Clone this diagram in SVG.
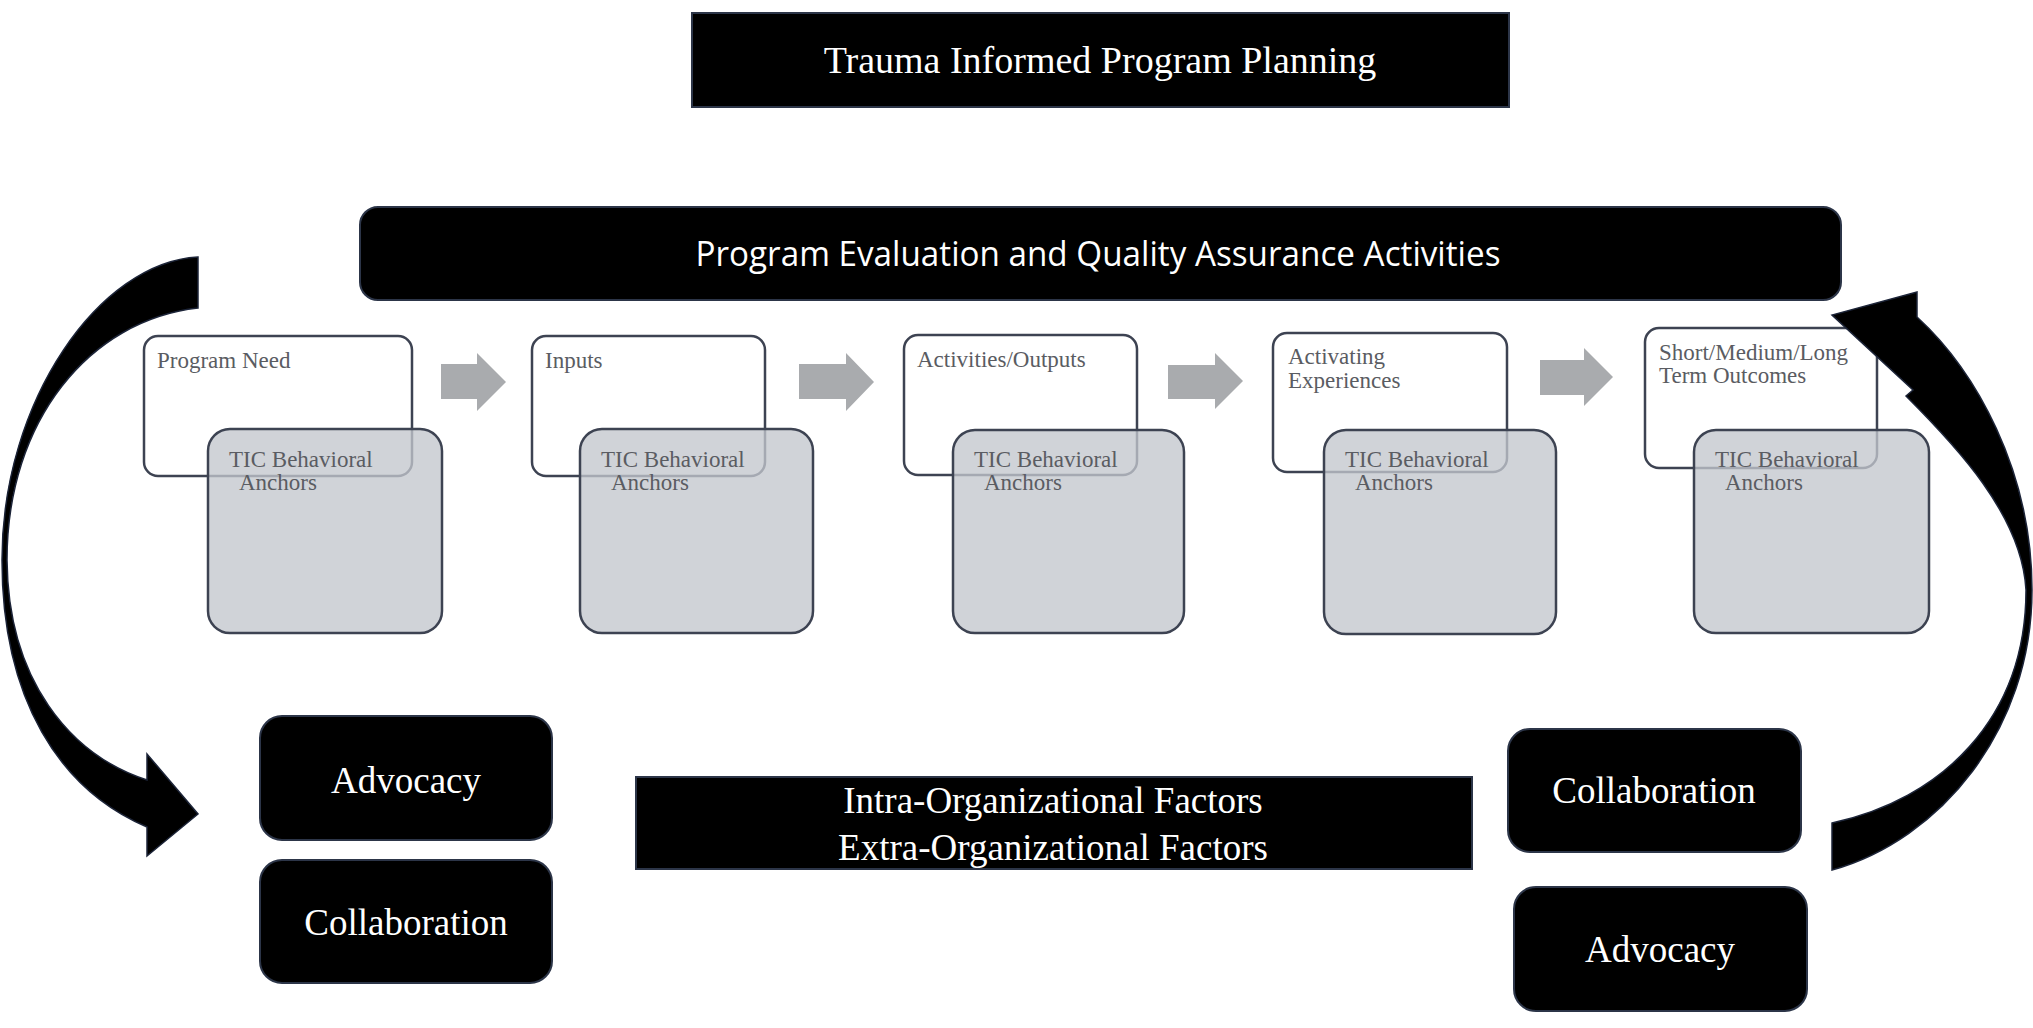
<svg xmlns="http://www.w3.org/2000/svg" width="2033" height="1028" viewBox="0 0 2033 1028">
<style>
.blk{fill:#000;stroke:#2c3548;stroke-width:2}
.wbox{fill:#fff;stroke:#3d4352;stroke-width:2.5}
.gbox{fill:#c3c7cd;fill-opacity:0.78;stroke:#3d4352;stroke-width:2.5}
.wt{font-family:"Liberation Serif","Times New Roman",serif;fill:#fff;text-anchor:middle}
.bt{font-family:"Liberation Serif","Times New Roman",serif;font-size:23px;fill:#5a5c62}
.garrow{fill:#a9abae}
.carrow{fill:#000;stroke:#1c2438;stroke-width:1.5}
</style>
<rect width="2033" height="1028" fill="#fff"/>

<g id="title">
<rect class="blk" x="692" y="13" width="817" height="94"/>
<text class="wt" x="1100" y="73" font-size="38">Trauma Informed Program Planning</text>
</g>

<g id="peqa">
<rect class="blk" x="360" y="207" width="1481" height="93" rx="18"/>
<text x="1098" y="266" font-family="'Open Sans','Noto Sans',sans-serif" font-size="35" fill="#fff" text-anchor="middle" textLength="805" lengthAdjust="spacingAndGlyphs">Program Evaluation and Quality Assurance Activities</text>
</g>

<g id="step1">
<rect class="wbox" x="144" y="336" width="268" height="140" rx="14"/>
<text class="bt" x="157" y="368">Program Need</text>
<rect class="gbox" x="208" y="429" width="234" height="204" rx="22"/>
<text class="bt" x="229" y="467">TIC Behavioral</text>
<text class="bt" x="239" y="490">Anchors</text>
</g>

<g id="step2">
<rect class="wbox" x="532" y="336" width="233" height="140" rx="14"/>
<text class="bt" x="545" y="368">Inputs</text>
<rect class="gbox" x="580" y="429" width="233" height="204" rx="22"/>
<text class="bt" x="601" y="467">TIC Behavioral</text>
<text class="bt" x="611" y="490">Anchors</text>
</g>

<g id="step3">
<rect class="wbox" x="904" y="335" width="233" height="140" rx="14"/>
<text class="bt" x="917" y="367">Activities/Outputs</text>
<rect class="gbox" x="953" y="430" width="231" height="203" rx="22"/>
<text class="bt" x="974" y="467">TIC Behavioral</text>
<text class="bt" x="984" y="490">Anchors</text>
</g>

<g id="step4">
<rect class="wbox" x="1273" y="333" width="234" height="139" rx="14"/>
<text class="bt" x="1288" y="364">Activating</text>
<text class="bt" x="1288" y="388">Experiences</text>
<rect class="gbox" x="1324" y="430" width="232" height="204" rx="22"/>
<text class="bt" x="1345" y="467">TIC Behavioral</text>
<text class="bt" x="1355" y="490">Anchors</text>
</g>

<g id="step5">
<rect class="wbox" x="1645" y="328" width="232" height="140" rx="14"/>
<text class="bt" x="1659" y="360">Short/Medium/Long</text>
<text class="bt" x="1659" y="383">Term Outcomes</text>
<rect class="gbox" x="1694" y="430" width="235" height="203" rx="22"/>
<text class="bt" x="1715" y="467">TIC Behavioral</text>
<text class="bt" x="1725" y="490">Anchors</text>
</g>

<g id="factors">
<rect class="blk" x="636" y="777" width="836" height="92"/>
<text class="wt" x="1053" y="813" font-size="37">Intra-Organizational Factors</text>
<text class="wt" x="1053" y="860" font-size="37">Extra-Organizational Factors</text>
</g>

<g id="advocacy-left">
<rect class="blk" x="260" y="716" width="292" height="124" rx="22"/>
<text class="wt" x="406" y="793" font-size="37">Advocacy</text>
</g>
<g id="collaboration-left">
<rect class="blk" x="260" y="860" width="292" height="123" rx="22"/>
<text class="wt" x="406" y="935" font-size="37">Collaboration</text>
</g>
<g id="collaboration-right">
<rect class="blk" x="1508" y="729" width="293" height="123" rx="22"/>
<text class="wt" x="1654" y="803" font-size="37">Collaboration</text>
</g>
<g id="advocacy-right">
<rect class="blk" x="1514" y="887" width="293" height="124" rx="22"/>
<text class="wt" x="1660" y="962" font-size="37">Advocacy</text>
</g>

<g id="connectors">
<path class="garrow" d="M441,364 H477 V353 L506,382 L477,411 V399 H441 Z"/>
<path class="garrow" d="M799,364 H846 V353 L874,382 L846,411 V399 H799 Z"/>
<path class="garrow" d="M1168,365 H1215 V353 L1243,381 L1215,409 V399 H1168 Z"/>
<path class="garrow" d="M1540,360 H1584 V348 L1613,377 L1584,406 V395 H1540 Z"/>
<path class="carrow" d="M198,257 C100,262 2,400 2,560 C2,700 60,790 147,827 L147,856 L198,814 L147,754 L147,780 C70,755 8,680 7,560 C7,420 90,320 198,308 Z"/>
<path class="carrow" d="M1917,292 L1917,317 C1975,370 2032,470 2032,590 C2032,730 1940,840 1832,870 L1832,823 C1940,800 2026,720 2026,590 C2022,515 1955,445 1906,396 L1913,390 L1832,315 Z"/>
</g>
</svg>
